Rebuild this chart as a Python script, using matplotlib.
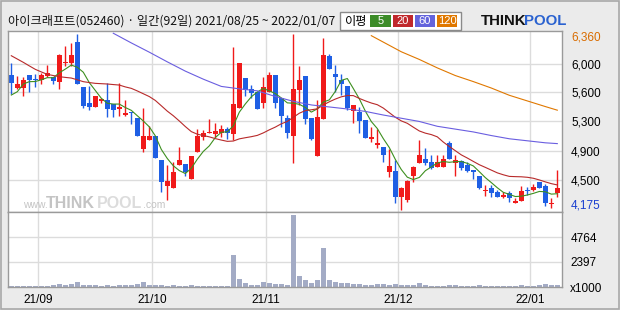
import numpy as np
import matplotlib
matplotlib.use('Agg')
import matplotlib.pyplot as plt
from matplotlib.patches import Rectangle

# 아이크래프트(052460) 일봉 2021/08/25 ~ 2022/01/07 (92일)
opens = [5855, 5694, 5694, 5851, 5798, 5789, 5843, 5827, 5769, 6004,
         6004, 6257, 5702, 5504, 5458, 5529, 5541, 5491, 5434, 5351,
         5396, 5322, 4929, 5044, 5094, 4796, 4478, 4453, 4734, 4742,
         4564, 4900, 5086, 5135, 5115, 5127, 5181, 5123, 5446, 5818,
         5678, 5644, 5500, 5644, 5851, 5562, 5322, 5098, 5665, 5843,
         5322, 4850, 5305, 6091, 5868, 5789, 5719, 5409, 5396, 5293,
         5061, 4987, 4962, 4651, 4664, 4341, 4300, 4602, 4755, 4809,
         4767, 4705, 4705, 5003, 4763, 4784, 4734, 4672, 4602, 4407,
         4444, 4395, 4341, 4387, 4258, 4291, 4424, 4424, 4519, 4478,
         4250, 4382]
highs = [5996, 5839, 5831, 5851, 5860, 5880, 5975, 5827, 6108, 6211,
         6244, 6360, 5702, 5719, 5595, 5570, 5752, 5491, 5756, 5545,
         5396, 5322, 5446, 5218, 5094, 4796, 4734, 4775, 4962, 4742,
         4850, 5177, 5169, 5301, 5251, 5231, 5210, 6203, 6004, 5818,
         5727, 5644, 5831, 5893, 5851, 5562, 5355, 6360, 5963, 5843,
         5322, 5541, 6307, 6112, 5975, 5860, 5719, 5479, 5458, 5293,
         5210, 5177, 4962, 4933, 4796, 4465, 4548, 4726, 5044, 4949,
         4858, 4858, 4858, 5032, 4858, 4796, 4767, 4672, 4602, 4486,
         4486, 4424, 4403, 4411, 4320, 4478, 4465, 4494, 4527, 4494,
         4320, 4672]
lows = [5611, 5673, 5595, 5640, 5707, 5740, 5831, 5740, 5682, 5963,
        5963, 5744, 5446, 5417, 5458, 5508, 5334, 5334, 5342, 5342,
        5243, 5098, 4900, 5044, 4825, 4403, 4300, 4453, 4734, 4602,
        4564, 4900, 5044, 5127, 5086, 5086, 5053, 5044, 5446, 5595,
        5562, 5429, 5438, 5644, 5446, 5202, 5073, 4755, 5479, 5243,
        5044, 4850, 5305, 5922, 5644, 5603, 5417, 5260, 5127, 5073,
        5024, 4941, 4767, 4589, 4258, 4175, 4279, 4527, 4755, 4734,
        4680, 4705, 4705, 4809, 4602, 4672, 4643, 4560, 4436, 4353,
        4341, 4341, 4329, 4279, 4258, 4291, 4362, 4411, 4453, 4229,
        4196, 4341]
closes = [5748, 5740, 5789, 5789, 5789, 5851, 5876, 5781, 6100, 6017,
          6100, 5744, 5467, 5458, 5595, 5553, 5434, 5417, 5458, 5380,
          5376, 5098, 5094, 5094, 4825, 4527, 4535, 4643, 4796, 4643,
          4850, 5098, 5127, 5144, 5156, 5181, 5127, 5491, 5996, 5665,
          5624, 5429, 5707, 5851, 5500, 5347, 5127, 5678, 5789, 5305,
          5057, 5330, 6100, 5922, 5831, 5740, 5446, 5479, 5284, 5073,
          5086, 5011, 4858, 4726, 4341, 4453, 4535, 4713, 4858, 4755,
          4693, 4775, 4809, 4809, 4796, 4701, 4660, 4651, 4453, 4424,
          4391, 4341, 4366, 4329, 4287, 4411, 4416, 4465, 4453, 4267,
          4262, 4444]
# 거래량 (x1000)
volumes = [90, 80, 90, 100, 90, 100, 110, 220, 290, 220,
           320, 480, 220, 190, 190, 130, 190, 130, 190, 160,
           160, 290, 480, 190, 190, 190, 130, 190, 130, 130,
           190, 130, 100, 100, 100, 100, 100, 3050, 760, 410,
           190, 190, 480, 410, 320, 250, 220, 6930, 1050, 640,
           380, 640, 3690, 640, 480, 380, 380, 250, 250, 160,
           160, 250, 250, 160, 250, 160, 160, 160, 350, 160,
           100, 100, 100, 160, 160, 100, 100, 100, 160, 100,
           100, 100, 100, 100, 100, 160, 100, 100, 160, 250,
           160, 160]

# 이동평균선
ma5 = [5603, 5644, 5740, 5769, 5771, 5792, 5819, 5817, 5879, 5925,
       5975, 5948, 5886, 5757, 5660, 5563, 5501, 5491, 5491, 5448,
       5413, 5346, 5281, 5208, 5097, 4928, 4815, 4725, 4665, 4629,
       4693, 4806, 4903, 4972, 5075, 5141, 5147, 5220, 5390, 5492,
       5581, 5641, 5684, 5655, 5622, 5567, 5506, 5501, 5488, 5449,
       5391, 5432, 5516, 5543, 5648, 5785, 5808, 5684, 5556, 5404,
       5274, 5187, 5062, 4951, 4804, 4678, 4583, 4554, 4580, 4663,
       4711, 4759, 4778, 4768, 4776, 4778, 4755, 4723, 4652, 4578,
       4516, 4452, 4395, 4370, 4343, 4347, 4362, 4382, 4406, 4402,
       4373, 4378]
ma20 = [6091, 6050, 6009, 5965, 5922, 5890, 5860, 5845, 5831, 5822,
        5814, 5792, 5769, 5758, 5748, 5744, 5740, 5733, 5727, 5704,
        5686, 5654, 5619, 5584, 5536, 5470, 5403, 5346, 5281, 5212,
        5149, 5117, 5100, 5084, 5062, 5044, 5028, 5032, 5059, 5073,
        5086, 5102, 5133, 5171, 5205, 5246, 5275, 5327, 5377, 5410,
        5420, 5432, 5480, 5519, 5553, 5581, 5597, 5596, 5561, 5531,
        5504, 5483, 5441, 5384, 5327, 5282, 5252, 5204, 5157, 5130,
        5112, 5084, 5019, 4964, 4912, 4860, 4821, 4779, 4738, 4705,
        4671, 4637, 4613, 4593, 4590, 4588, 4582, 4570, 4549, 4525,
        4503, 4487]
ma60_idx = [17, 20, 23, 26, 29, 32, 35, 38, 41, 44, 47, 50, 53,
            56, 59, 62, 65, 68, 71, 74, 77, 80, 83, 86, 89, 91]
ma60 = [6370, 6250, 6135, 6015, 5900, 5800, 5710, 5680, 5655, 5585,
        5525, 5480, 5455, 5430, 5400, 5355, 5315, 5275, 5215, 5180,
        5145, 5100, 5060, 5035, 5010, 5000]
ma120_idx = [60, 62, 65, 68, 71, 74, 77, 80, 83, 86, 89, 91]
ma120 = [6340, 6260, 6140, 6045, 5940, 5845, 5770, 5690, 5600, 5530,
         5460, 5415]

month_start = [5, 24, 43, 65, 87]
month_labels = ['21/09', '21/10', '21/11', '21/12', '22/01']
price_ticks = [5988, 5640, 5280, 4910, 4546]
price_labels = ['6,000', '5,600', '5,300', '4,900', '4,500']
vol_ticks = [0, 2397, 4764]
vol_labels = ['x1000', '2397', '4764']

RED = '#f01a1a'
BLUE = '#1f5fe4'
GRID = '#dcdcdc'
FRAME = '#9a9a9a'
CJK = ['Noto Sans CJK KR', 'DejaVu Sans']
NUM = ['Liberation Sans', 'DejaVu Sans']

W, H = 620, 310


def fx(px):
    return px / W


def fy(py):
    return 1 - py / H


fig = plt.figure(figsize=(6.2, 3.1), dpi=100, facecolor='#ebebeb')
ax = fig.add_axes([fx(7.7), fy(212), fx(562 - 7.7), (212 - 31) / H])
axv = fig.add_axes([fx(7.7), fy(287), fx(562 - 7.7), (287 - 212) / H], sharex=ax)

idx = np.arange(len(closes))
o = np.array(opens)
c = np.array(closes)
colors = np.where(c >= o, RED, BLUE)

# 캔들
ax.vlines(idx, lows, highs, colors=colors, linewidth=1, zorder=2)
body = np.abs(c - o)
body_h = np.maximum(body, 14)
body_bot = np.minimum(o, c) - (body_h - body) / 2
ax.bar(idx, body_h, bottom=body_bot, width=0.74, color=colors, linewidth=0, zorder=2)

# 이동평균선
ax.plot(idx, ma5, color='#3d8f1f', lw=0.8, zorder=3)
ax.plot(idx, ma20, color='#b82a2a', lw=0.8, zorder=3)
ax.plot(ma60_idx, ma60, color='#6a5ee0', lw=0.8, zorder=3)
ax.plot(ma120_idx, ma120, color='#e07800', lw=0.8, zorder=3)

ax.set_xlim(-0.6, 91.78)
ax.set_ylim(4151, 6398)

# 거래량
axv.bar(idx, volumes, width=0.75, color='#a3abc5', linewidth=0, zorder=2)
axv.set_ylim(0, 7170)

for a in (ax, axv):
    a.set_facecolor('white')
    for s in a.spines.values():
        s.set_color(FRAME)
        s.set_linewidth(1)
    for m in month_start:
        a.axvline(m - 0.5, color=GRID, lw=1, zorder=0)
    a.tick_params(length=0)
    a.yaxis.tick_right()

for t in price_ticks:
    ax.axhline(t, color=GRID, lw=1, zorder=0)
for t in vol_ticks[1:]:
    axv.axhline(t, color=GRID, lw=1, zorder=0)

ax.set_yticks(price_ticks)
ax.set_yticklabels(price_labels, family=NUM, fontsize=8.5)
ax.tick_params(axis='y', pad=6.5)
ax.tick_params(axis='x', labelbottom=False)

axv.set_yticks(vol_ticks)
axv.set_yticklabels(vol_labels, family=NUM, fontsize=8.5)
axv.tick_params(axis='y', pad=6)
axv.set_xticks([m - 0.5 for m in month_start])
axv.set_xticklabels(month_labels, family=NUM, fontsize=8.5)
axv.tick_params(axis='x', pad=5)

# 최고/최저가 표시
ax.annotate(f'{max(highs):,}', xy=(1, max(highs)), xycoords=('axes fraction', 'data'),
            xytext=(6.5, -2.5), textcoords='offset points', va='center', ha='left',
            color='#d96c00', family=NUM, fontsize=8.5)
ax.annotate(f'{min(lows):,}', xy=(1, min(lows)), xycoords=('axes fraction', 'data'),
            xytext=(6.5, 3.2), textcoords='offset points', va='center', ha='left',
            color='#1a3fd0', family=NUM, fontsize=8.5)

# 워터마크
wm = '#c4c4c4'
fig.text(fx(23), fy(205), 'www.', color=wm, fontsize=7.5, family=NUM, va='center', zorder=1)
fig.text(fx(46), fy(203), 'THINK', color=wm, fontsize=11.5, weight='bold', family=NUM, va='center')
fig.text(fx(97), fy(203), 'POOL', color='#dcdcdc', fontsize=11.5, weight='bold', family=NUM, va='center')
fig.text(fx(143), fy(205), '.com', color=wm, fontsize=7.5, family=NUM, va='center')

# 제목
fig.text(fx(8), fy(21), '아이크래프트(052460) · 일간(92일) 2021/08/25 ~ 2022/01/07',
         family=CJK, fontsize=8.8, va='center', ha='left', color='#111111')

# 이평 범례
fig.patches.append(Rectangle((fx(340), fy(30)), fx(461 - 340), (30 - 12) / H,
                             transform=fig.transFigure, facecolor='white',
                             edgecolor='#8a8a8a', lw=1))
fig.text(fx(345), fy(21), '이평', family=CJK, fontsize=8.8, va='center', ha='left')
legend_items = [('5', '#3c8c28', 370, 391), ('20', '#c0282c', 393, 413),
                ('60', '#6464dc', 415, 435), ('120', '#e07800', 437, 457)]
for lbl, col, x0, x1 in legend_items:
    fig.patches.append(Rectangle((fx(x0), fy(27)), fx(x1 - x0), 12 / H,
                                 transform=fig.transFigure, facecolor=col, lw=0))
    fig.text(fx((x0 + x1) / 2), fy(21), lbl, color='white', family=NUM,
             fontsize=8, ha='center', va='center')

# 로고
fig.text(fx(481), fy(21), 'THINK', family=NUM, fontsize=10.8, weight='bold',
         color='#111111', va='center', ha='left')
fig.text(fx(524), fy(21), 'POOL', family=NUM, fontsize=10.8, weight='bold',
         color='#2a62d0', va='center', ha='left')

# 외곽선
fig.patches.append(Rectangle((0.002, 0.003), 0.996, 0.994, transform=fig.transFigure,
                             facecolor='none', edgecolor='#a8a8a8', lw=1.2))

fig.savefig('out.png', dpi=100, facecolor=fig.get_facecolor())
print('saved out.png')
